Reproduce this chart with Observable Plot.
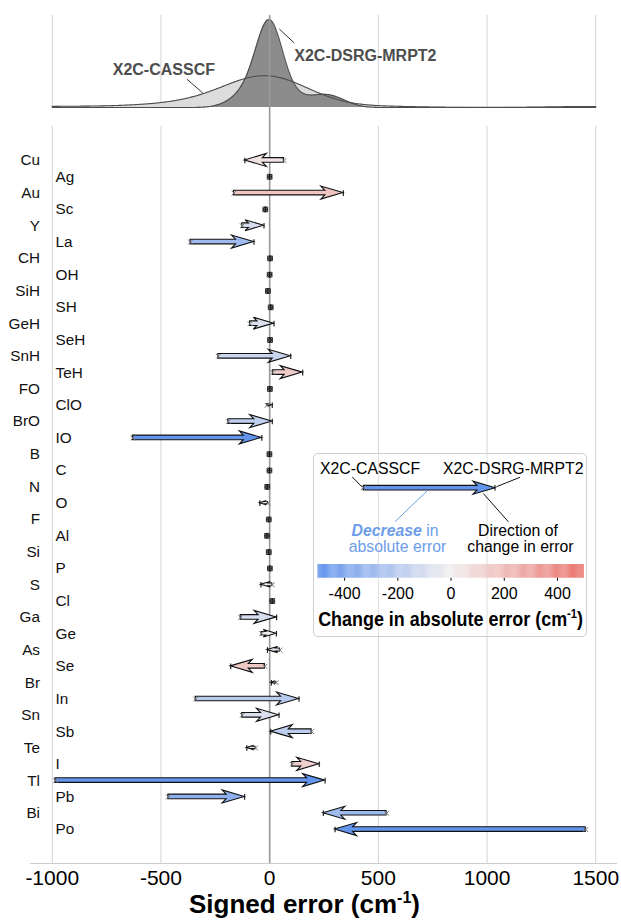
<!DOCTYPE html>
<html><head><meta charset="utf-8">
<script src="https://cdn.jsdelivr.net/npm/d3@7"></script>
<script src="https://cdn.jsdelivr.net/npm/@observablehq/plot@0.6"></script>
<style>
body{margin:0;background:#fff;font-family:"Liberation Sans",Arial,Helvetica,sans-serif;}
#wrap{position:relative;width:621px;height:922px;overflow:hidden;background:#fff}
#wrap svg{display:block}
.legendbox{position:absolute;left:313px;top:453px;width:272px;height:182px;border:1px solid #cfcfcf;border-radius:5px;background:rgba(255,255,255,0.25)}
</style></head><body><div id="wrap"></div>
<script>
// ---------------- data ----------------
const species = ["Cu","Ag","Au","Sc","Y","La","CH","OH","SiH","SH","GeH","SeH","SnH","TeH","FO","ClO","BrO","IO","B","C","N","O","F","Al","Si","P","S","Cl","Ga","Ge","As","Se","Br","In","Sn","Sb","Te","I","Tl","Pb","Bi","Po"];
const casscf = [66,0,-164,-20,-126,-364,2,0,-8,5,-90,2,-236,15,1,-12,-190,-629,-1,-1,-11,-8,-4,-12,-4,1,12,12,-133,-37,47,-22,30,-340,-126,193,-65,104,-985,-466,538,1454];
const dsrg   = [-114,0,339,-20,-26,-72,2,0,-8,5,20,2,97,152,1,12,12,-36,-1,-1,-11,-45,-4,-12,-4,1,-40,12,32,31,-10,-179,8,135,43,5,-105,228,255,-115,247,301];
const xTicks = [-1000,-500,0,500,1000,1500];
const legendTicks = [-400,-200,0,200,400];
const legendCas = -328, legendDsrg = 167, legendChange = -500;
const kdeBandwidth = {casscf: 182, dsrg: 58}; // smoothing widths (cm-1)

const rows = species.map((name, i) => ({name, cas: casscf[i], dsrg: dsrg[i], change: Math.abs(dsrg[i]) - Math.abs(casscf[i])}));
const FONT = '"Liberation Sans", Arial, Helvetica, sans-serif';
const colorOpts = {type: "linear", domain: [-500, 0, 500], range: ["#6495ed", "#f1efef", "#ea736c"], clamp: true, interpolate: "rgb"};

// ---------------- helpers ----------------
function drawArrow(g, x1, x2, y, fill) {
  const len = Math.abs(x2 - x1);
  if (len < 0.5) return;
  const dir = x2 > x1 ? 1 : -1;
  const s = Math.min(1, len / 26);
  const L = 22 * s, W = 6.5 * s, N = 4 * s, h = Math.min(2.3, W * 0.4 + 0.3);
  const pts = [[-len, -h], [-L + N, -h], [-L, -W], [0, 0], [-L, W], [-L + N, h], [-len, h]];
  const d = "M" + pts.map(([u, v]) => (x2 + dir * u).toFixed(2) + "," + (y + v).toFixed(2)).join("L") + "Z";
  g.append("path").attr("d", d).attr("fill", fill).attr("stroke", "#111").attr("stroke-width", 1.1).attr("stroke-linejoin", "miter");
}
function drawMarkers(g, x1, x2, y) {
  g.append("path").attr("d", `M${x1-2.4},${y-2.4}L${x1+2.4},${y+2.4}M${x1-2.4},${y+2.4}L${x1+2.4},${y-2.4}`).attr("stroke", "#666").attr("stroke-width", 1).attr("fill", "none");
  g.append("path").attr("d", `M${x2},${y-2.8}L${x2},${y+2.8}`).attr("stroke", "#111").attr("stroke-width", 1.1);
}
const tickSymbol = {draw(ctx, size) { const r = Math.sqrt(size / Math.PI); ctx.moveTo(0, -r); ctx.lineTo(0, r); }};

function kde(values, h, xs) {
  const n = values.length;
  const f = x => d3.sum(values, v => Math.exp(-0.5 * ((x - v) / h) ** 2)) / (n * h * Math.sqrt(2 * Math.PI));
  return {f, pts: xs.map(x => ({x, y: f(x)}))};
}
const evalGrid = d3.range(-1000, 1500.01, 4);
const kCas = kde(casscf, kdeBandwidth.casscf, evalGrid), kDsrg = kde(dsrg, kdeBandwidth.dsrg, evalGrid);
const dsrgPeak = d3.greatest(kDsrg.pts, d => d.y);
const ymax = dsrgPeak.y * 92 / 88;

// ---------------- top density panel ----------------
const topAnnot = (index, scales) => {
  const g = d3.create("svg:g").attr("font-family", FONT).attr("font-size", 16).attr("font-weight", "bold").attr("fill", "#4d4d4d");
  const ax = scales.x(-305), ay = scales.y(kCas.f(-305));
  g.append("line").attr("x1", ax).attr("y1", ay).attr("x2", ax - 16).attr("y2", ay - 14).attr("stroke", "#333").attr("stroke-width", 1);
  g.append("text").attr("x", ax - 39).attr("y", ay - 24).attr("dy", "0.35em").attr("text-anchor", "middle").text("X2C-CASSCF");
  const bx = scales.x(dsrgPeak.x), by = scales.y(dsrgPeak.y);
  g.append("line").attr("x1", bx + 11).attr("y1", by + 10).attr("x2", bx + 26).attr("y2", by + 24).attr("stroke", "#333").attr("stroke-width", 1);
  g.append("text").attr("x", bx + 26).attr("y", by + 36).attr("dy", "0.35em").attr("text-anchor", "start").text("X2C-DSRG-MRPT2");
  return g.node();
};
const topPlot = Plot.plot({
  width: 621, height: 108, marginTop: 15, marginBottom: 1, marginLeft: 30, marginRight: 4,
  x: {domain: [-1100, 1600], axis: null},
  y: {domain: [0, ymax], axis: null},
  style: {background: "transparent", fontFamily: FONT},
  marks: [
    Plot.ruleX(xTicks, {stroke: "#d4d4d4", strokeWidth: 1}),
    Plot.areaY(kCas.pts, {x: "x", y: "y", fill: "#dcdcdc"}),
    Plot.areaY(kDsrg.pts, {x: "x", y: "y", fill: "#8c8c8c"}),
    Plot.lineY(kCas.pts, {x: "x", y: "y", stroke: "#4d4d4d", strokeWidth: 1.1}),
    Plot.lineY(kDsrg.pts, {x: "x", y: "y", stroke: "#4d4d4d", strokeWidth: 1.1}),
    Plot.ruleX([0], {stroke: "#999", strokeWidth: 1.6, insetBottom: -1}),
    topAnnot
  ]
});

// ---------------- main arrow panel ----------------
const arrowsMark = (index, scales) => {
  const g = d3.create("svg:g");
  for (const d of rows) {
    const x1 = scales.x(d.cas), x2 = scales.x(d.dsrg), y = scales.y(d.name);
    drawArrow(g, x1, x2, y, scales.color(d.change));
  }
  return g.node();
};
const bottomDecor = (index, scales, values, dims) => {
  const g = d3.create("svg:g");
  const yb = dims.height - dims.marginBottom;
  g.append("line").attr("x1", dims.marginLeft).attr("x2", dims.width - dims.marginRight).attr("y1", yb + 0.5).attr("y2", yb + 0.5).attr("stroke", "#cccccc");
  const t = g.append("text").attr("x", 304.5).attr("y", yb + 50).attr("text-anchor", "middle")
    .attr("font-family", FONT).attr("font-size", 26).attr("font-weight", "bold").attr("fill", "#000");
  t.append("tspan").text("Signed error (cm");
  t.append("tspan").attr("font-size", 16).attr("dy", -10).text("-1");
  t.append("tspan").attr("dy", 10).text(")");
  return g.node();
};
const pointRows = rows.filter(d => d.cas === d.dsrg);
const mainPlot = Plot.plot({
  width: 621, height: 814, marginTop: 18, marginBottom: 59, marginLeft: 30, marginRight: 4,
  x: {domain: [-1100, 1600], ticks: xTicks, tickSize: 0, tickPadding: 7, label: null, tickFormat: d => String(d)},
  y: {type: "point", domain: species, padding: 2.08, round: false, axis: null},
  color: colorOpts,
  style: {background: "transparent", fontFamily: FONT, fontSize: "21px", color: "#000"},
  marks: [
    Plot.ruleX(xTicks, {stroke: "#d4d4d4", strokeWidth: 1}),
    Plot.ruleX([0], {stroke: "#999", strokeWidth: 1.6, insetTop: -18}),
    Plot.dot(rows, {x: "cas", y: "name", fill: "change", r: 1, fillOpacity: 0}),
    arrowsMark,
    Plot.dot(pointRows, {x: "cas", y: "name", symbol: "square", r: 2.7, fill: "#333", stroke: "#111", strokeWidth: 0.8}),
    Plot.dot(rows, {x: "cas", y: "name", symbol: "times", r: 2.3, stroke: "#777", strokeWidth: 1}),
    Plot.dot(rows, {x: "dsrg", y: "name", symbol: tickSymbol, r: 2.8, stroke: "#111", strokeWidth: 1.1}),
    Plot.text(rows.filter((d, i) => i % 2 === 0), {y: "name", text: "name", frameAnchor: "left", dx: 9.5, textAnchor: "end", fontSize: 15.3, fill: "#111"}),
    Plot.text(rows.filter((d, i) => i % 2 === 1), {y: "name", text: "name", frameAnchor: "left", dx: 25, textAnchor: "start", fontSize: 15.3, fill: "#111"}),
    bottomDecor
  ]
});

// ---------------- legend ----------------
const rampStops = d3.range(-500, 500, 4);
const legendAnnot = (index, scales, values, dims) => {
  const g = d3.create("svg:g").attr("font-family", FONT).attr("font-size", 15.8).attr("fill", "#000");
  const ay = 33.7, xa = scales.x(legendCas), xb = scales.x(legendDsrg);
  drawArrow(g, xa, xb, ay, scales.color(legendChange));
  drawMarkers(g, xa, xb, ay);
  g.append("text").attr("x", 6).attr("y", 14).attr("dy", "0.35em").attr("text-anchor", "start").text("X2C-CASSCF");
  g.append("text").attr("x", 129).attr("y", 14).attr("dy", "0.35em").attr("text-anchor", "start").text("X2C-DSRG-MRPT2");
  const ln = (x1, y1, x2, y2, c) => g.append("line").attr("x1", x1).attr("y1", y1).attr("x2", x2).attr("y2", y2).attr("stroke", c).attr("stroke-width", 1);
  ln(xa - 11, ay - 10.7, xa - 1.5, ay - 1, "#111");
  ln(xb + 1.5, ay - 1, xb + 25, ay - 10.4, "#111");
  ln(113.7, 36.3, 81, 67.7, "#6d9de8");
  ln(169.3, 39.5, 194.3, 67.7, "#111");
  const blue = "#6d9de8";
  const t1 = g.append("text").attr("x", 81).attr("y", 76.7).attr("dy", "0.35em").attr("text-anchor", "middle").attr("fill", blue);
  t1.append("tspan").attr("font-weight", "bold").attr("font-style", "italic").text("Decrease");
  t1.append("tspan").text(" in");
  g.append("text").attr("x", 83.5).attr("y", 92.7).attr("dy", "0.35em").attr("text-anchor", "middle").attr("fill", blue).text("absolute error");
  g.append("text").attr("x", 204).attr("y", 76.7).attr("dy", "0.35em").attr("text-anchor", "middle").text("Direction of");
  g.append("text").attr("x", 206.5).attr("y", 92.7).attr("dy", "0.35em").attr("text-anchor", "middle").text("change in error");
  const cx = (dims.marginLeft + dims.width - dims.marginRight) / 2;
  const t = g.append("text").attr("class", "cbar-label").attr("x", 0).attr("y", 0).attr("text-anchor", "middle")
    .attr("data-cx", cx).attr("transform", `translate(${cx},172)`)
    .attr("font-family", FONT).attr("font-size", 21).attr("font-weight", "bold");
  t.append("tspan").text("Change in absolute error (cm");
  t.append("tspan").attr("font-size", 13).attr("dy", -8).text("-1");
  t.append("tspan").attr("dy", 8).text(")");
  return g.node();
};
const legendPlot = Plot.plot({
  width: 272, height: 182, marginTop: 110, marginBottom: 58.3, marginLeft: 3.5, marginRight: 2.4,
  x: {domain: [-500, 500], ticks: legendTicks, tickSize: 3, tickPadding: 6, label: null, tickFormat: d => String(d)},
  color: colorOpts,
  style: {background: "transparent", fontFamily: FONT, fontSize: "16px", color: "#000", overflow: "visible"},
  marks: [
    Plot.barX(rampStops, {x1: d => d, x2: d => d + 4.6, fill: d => d + 2}),
    legendAnnot
  ]
});

const wrap = document.getElementById("wrap");
wrap.appendChild(topPlot);
wrap.appendChild(mainPlot);
const box = document.createElement("div");
box.className = "legendbox";
box.appendChild(legendPlot);
wrap.appendChild(box);
// condense the colour-bar label to the bar width (narrow bold face)
const cbl = legendPlot.querySelector(".cbar-label");
if (cbl) {
  const w = cbl.getBBox().width;
  const cx = +cbl.getAttribute("data-cx");
  if (w > 0) cbl.setAttribute("transform", `translate(${cx},172) scale(${(265 / w).toFixed(4)},1)`);
}
</script></body></html>
